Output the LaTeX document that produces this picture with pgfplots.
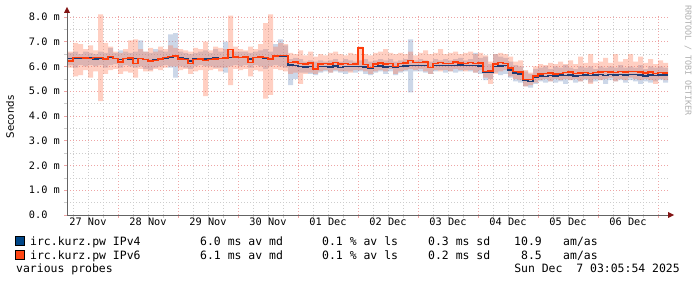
\documentclass[border=0pt]{standalone}
\usepackage{pgfplots}
\pgfplotsset{compat=1.18}
\usepackage{pgfplotstable}
\usepgfplotslibrary{fillbetween}
\usepackage{fontspec}
\setmainfont{DejaVu Sans}
\setmonofont{DejaVu Sans Mono}
\definecolor{vfour}{RGB}{30,60,115}
\definecolor{vfoursq}{RGB}{0,70,135}
\definecolor{vsix}{RGB}{255,60,10}
\definecolor{vsixsq}{RGB}{255,70,20}
\definecolor{smokeb}{RGB}{120,150,195}
\definecolor{smokeo}{RGB}{255,110,70}
\definecolor{mgrid}{RGB}{238,165,165}
\definecolor{ngrid}{RGB}{205,205,205}
\definecolor{arrowred}{RGB}{130,20,20}
\definecolor{axisgray}{RGB}{100,100,100}
\newcommand{\legfont}{\ttfamily\fontsize{11.5}{13}\selectfont}
\newcommand{\tickfont}{\ttfamily\fontsize{10.3}{12}\selectfont}

\pgfplotstableread{
h b bl bh o ol oh
4 6.32 6.05 6.55 6.22 5.95 6.60
6 6.33 5.95 6.60 6.36 5.60 6.95
8 6.33 6.05 6.50 6.35 5.65 6.90
10 6.32 6.00 6.60 6.34 5.85 6.70
12 6.35 6.05 6.55 6.33 5.55 6.85
14 6.30 6.00 6.50 6.36 5.80 6.65
16 6.34 6.05 6.60 6.35 4.60 8.10
18 6.31 5.95 6.55 6.30 5.70 6.95
20 6.36 6.05 6.75 6.40 5.85 6.80
22 6.33 6.10 6.55 6.32 5.90 6.60
24 6.28 5.95 6.65 6.18 5.70 6.55
26 6.33 6.05 6.60 6.32 5.80 6.70
28 6.30 6.00 6.55 6.34 5.75 7.05
30 6.32 5.95 6.60 6.12 5.55 7.10
32 6.33 6.00 7.05 6.32 5.90 6.70
34 6.28 5.90 6.60 6.28 5.80 6.60
36 6.25 5.85 6.55 6.22 5.80 6.75
38 6.26 5.95 6.70 6.24 5.90 6.60
40 6.30 6.00 6.65 6.30 5.85 6.80
42 6.33 6.05 6.60 6.35 5.95 6.70
44 6.38 5.95 7.30 6.40 6.00 6.85
46 6.40 5.55 7.35 6.42 6.00 6.75
48 6.35 6.00 6.60 6.30 5.85 6.70
50 6.30 5.95 6.55 6.28 5.90 6.65
52 6.22 5.90 6.50 6.12 5.70 6.60
54 6.30 6.00 6.55 6.28 5.80 6.75
56 6.32 6.05 6.60 6.30 5.85 6.70
58 6.30 6.00 6.65 6.25 4.80 7.00
60 6.32 6.00 6.55 6.28 5.85 6.65
62 6.34 5.95 6.70 6.30 5.90 6.80
64 6.33 5.95 6.60 6.32 5.80 6.75
66 6.35 5.75 7.00 6.34 5.95 6.70
68 6.36 6.00 6.65 6.70 5.25 8.05
70 6.36 6.05 6.60 6.38 5.90 6.80
72 6.35 6.00 6.60 6.36 5.85 6.70
74 6.36 6.05 6.60 6.38 5.90 6.65
76 6.30 5.95 6.55 6.15 5.60 6.80
78 6.35 6.05 6.60 6.35 5.85 6.70
80 6.36 6.00 6.65 6.38 5.80 6.90
82 6.34 5.90 6.70 6.36 4.70 7.75
84 6.33 6.00 6.60 6.30 4.85 8.10
86 6.40 6.05 6.90 6.42 5.90 6.80
88 6.42 6.00 7.10 6.45 5.85 6.95
90 6.40 5.95 6.85 6.44 5.80 6.90
92 6.06 5.25 6.30 6.15 5.70 6.55
94 6.04 5.50 6.35 6.18 5.75 6.50
96 6.00 5.75 6.30 6.12 5.30 6.65
98 5.98 5.75 6.20 6.10 5.70 6.45
100 6.00 5.70 6.25 6.14 5.75 6.60
102 5.90 5.65 6.20 5.90 5.70 6.40
104 5.99 5.75 6.25 6.10 5.80 6.50
106 6.00 5.80 6.20 6.12 5.85 6.45
108 5.98 5.75 6.25 6.10 5.75 6.55
110 6.02 5.80 6.30 6.15 5.85 6.60
112 5.97 5.75 6.20 6.10 5.80 6.50
114 6.00 5.70 6.30 6.12 5.80 6.45
116 6.01 5.80 6.25 6.08 5.75 6.55
118 5.99 5.75 6.20 6.10 5.85 6.50
120 6.00 5.80 6.25 6.75 5.85 6.80
122 5.98 5.70 6.30 6.08 5.80 6.50
124 5.92 5.65 6.20 5.95 5.70 6.45
126 6.00 5.75 6.25 6.10 5.80 6.55
128 6.02 5.80 6.30 6.14 5.85 6.60
130 5.98 5.70 6.25 6.10 5.80 6.70
132 6.01 5.80 6.30 6.12 5.90 6.55
134 5.96 5.65 6.20 6.00 5.70 6.50
136 6.00 5.75 6.25 6.12 5.80 6.55
138 6.02 5.80 6.30 6.14 5.85 6.50
140 6.05 4.95 7.10 6.25 5.90 6.60
142 6.03 5.80 6.25 6.15 5.85 6.45
144 6.04 5.80 6.30 6.16 5.90 6.55
146 6.05 5.75 6.25 6.18 5.80 6.65
148 5.95 5.70 6.20 5.97 5.70 6.50
150 6.03 5.80 6.30 6.12 5.85 6.55
152 6.05 5.85 6.25 6.15 5.80 6.70
154 6.03 5.75 6.30 6.13 5.85 6.50
156 6.05 5.80 6.25 6.12 5.80 6.55
158 6.04 5.75 6.30 6.18 5.90 6.60
160 6.06 5.80 6.35 6.14 5.85 6.50
162 6.03 5.85 6.25 6.12 5.80 6.55
164 6.05 5.80 6.30 6.15 5.85 6.60
166 6.04 5.75 6.55 6.13 5.75 6.50
168 6.02 5.70 6.35 6.14 5.85 6.55
170 5.78 5.45 6.40 5.80 5.55 6.45
172 5.76 5.50 6.10 5.82 5.30 6.20
174 6.00 5.75 6.50 6.10 5.70 6.50
176 6.02 5.65 6.40 6.15 5.80 6.55
178 6.03 5.70 6.35 6.12 5.85 6.50
180 5.86 5.55 6.20 5.94 5.60 6.40
182 5.74 5.40 6.05 5.80 5.50 6.20
184 5.70 5.35 6.00 5.78 5.45 6.25
186 5.42 5.20 5.80 5.48 5.20 5.85
188 5.40 5.15 5.70 5.47 5.25 5.75
190 5.58 5.30 5.90 5.62 5.35 6.00
192 5.62 5.40 5.95 5.70 5.45 6.10
194 5.60 5.35 6.00 5.72 5.50 6.05
196 5.64 5.40 5.90 5.74 5.40 6.15
198 5.62 5.35 6.00 5.70 5.50 6.10
200 5.65 5.40 5.95 5.72 5.45 6.20
202 5.63 5.30 6.05 5.75 5.50 6.10
204 5.66 5.45 5.95 5.78 5.45 6.25
206 5.62 5.35 5.90 5.73 5.50 6.10
208 5.64 5.40 6.00 5.74 5.40 6.40
210 5.66 5.45 5.95 5.76 5.50 6.15
212 5.63 5.35 6.00 5.72 5.30 6.50
214 5.65 5.40 5.90 5.75 5.50 6.15
216 5.67 5.45 6.00 5.78 5.45 6.20
218 5.64 5.30 5.95 5.80 5.50 6.35
220 5.68 5.45 6.00 5.78 5.55 6.15
222 5.66 5.40 5.95 5.77 5.40 6.50
224 5.68 5.45 6.05 5.80 5.50 6.20
226 5.66 5.35 5.95 5.78 5.45 6.30
228 5.67 5.45 6.00 5.79 5.55 6.50
230 5.69 5.40 5.95 5.80 5.50 6.20
232 5.66 5.30 6.05 5.78 5.45 6.40
234 5.62 5.40 5.90 5.74 5.50 6.15
236 5.65 5.35 6.00 5.78 5.45 6.30
238 5.64 5.40 5.95 5.72 5.30 6.10
240 5.66 5.45 6.00 5.76 5.50 6.25
242 5.65 5.35 5.95 5.74 5.45 6.15
244 5.65 5.35 5.95 5.74 5.45 6.15
}\data

\begin{document}
\begin{tikzpicture}
\path (0,0) rectangle (697bp,283bp);
\begin{axis}[
  at={(67bp,68bp)}, anchor=south west,
  scale only axis, width=601bp, height=200.5bp,
  xmin=3.6, xmax=244, ymin=0, ymax=8.1,
  axis line style={draw=none},
  xtick={24,48,...,240}, xticklabels={},
  minor xtick={6,12,18,30,36,42,54,60,66,78,84,90,102,108,114,126,132,138,150,156,162,174,180,186,198,204,210,222,228,234},
  extra x ticks={12,36,60,84,108,132,156,180,204,228},
  extra x tick labels={27 Nov,28 Nov,29 Nov,30 Nov,01 Dec,02 Dec,03 Dec,04 Dec,05 Dec,06 Dec},
  extra x tick style={grid=none, major tick length=0pt},
  ytick={0,1,...,8},
  yticklabels={0.0\phantom{\ m},1.0 m,2.0 m,3.0 m,4.0 m,5.0 m,6.0 m,7.0 m,8.0 m},
  minor ytick={0.5,1.5,...,7.5},
  grid=both,
  major grid style={mgrid, dash pattern=on 1bp off 2bp, line width=0.7bp},
  minor grid style={ngrid, dash pattern=on 1bp off 2bp, line width=0.7bp},
  tick align=outside, major tick length=3bp, minor tick length=3bp,
  major tick style={mgrid, line width=0.7bp},
  minor tick style={ngrid, line width=0.7bp},
  xtick pos=bottom, ytick pos=left,
  tick label style={inner sep=0pt},
  xticklabel style={font=\tickfont, anchor=north, yshift=-3bp},
  yticklabel style={font=\tickfont, anchor=east, xshift=-4bp},
]
\addplot[const plot, draw=none, name path=bh] table[x=h,y=bh]{\data};
\addplot[const plot, draw=none, name path=bl] table[x=h,y=bl]{\data};
\addplot[smokeb, fill opacity=0.38, draw=none] fill between[of=bh and bl];
\addplot[const plot, draw=none, name path=oh] table[x=h,y=oh]{\data};
\addplot[const plot, draw=none, name path=ol] table[x=h,y=ol]{\data};
\addplot[smokeo, fill opacity=0.33, draw=none] fill between[of=oh and ol];
\addplot[const plot, vfour, line width=1.3bp, no marks] table[x=h,y=b]{\data};
\addplot[const plot, vsix, line width=1.3bp, no marks] table[x=h,y=o]{\data};
\end{axis}
% axis lines with arrows
\draw[axisgray, line width=0.8bp] (67bp,68bp) -- (669bp,68bp);
\fill[arrowred] (674bp,68bp) -- (668bp,71bp) -- (668bp,65bp) -- cycle;
\draw[axisgray, line width=0.8bp] (67bp,68bp) -- (67bp,271bp);
\fill[arrowred] (67bp,276bp) -- (64bp,270bp) -- (70bp,270bp) -- cycle;
% y label
\node[rotate=90, font=\fontsize{10.2}{12}\selectfont, inner sep=0pt] at (10bp,166bp) {Seconds};
% watermark
\node[rotate=-90, anchor=west, inner sep=0pt, font=\ttfamily\fontsize{8.4}{10}\selectfont, text={rgb,255:red,175;green,175;blue,175}] at (688bp,278bp) {RRDTOOL / TOBI OETIKER};
% legend
\filldraw[fill=vfoursq, draw=black, line width=0.6bp] (15.5bp,38bp) rectangle (24bp,46.5bp);
\filldraw[fill=vsixsq, draw=black, line width=0.6bp] (15.5bp,24bp) rectangle (24bp,32.5bp);
\begin{scope}[every node/.style={inner sep=0pt, font=\legfont}]
\node[anchor=base west] at (30bp,38bp) {irc.kurz.pw IPv4};
\node[anchor=base west] at (200bp,38bp) {6.0 ms av md};
\node[anchor=base west] at (322bp,38bp) {0.1 \% av ls};
\node[anchor=base west] at (428bp,38bp) {0.3 ms sd};
\node[anchor=base east] at (542bp,38bp) {10.9};
\node[anchor=base west] at (563bp,38bp) {am/as};
\node[anchor=base west] at (30bp,24bp) {irc.kurz.pw IPv6};
\node[anchor=base west] at (200bp,24bp) {6.1 ms av md};
\node[anchor=base west] at (322bp,24bp) {0.1 \% av ls};
\node[anchor=base west] at (428bp,24bp) {0.2 ms sd};
\node[anchor=base east] at (542bp,24bp) {8.5};
\node[anchor=base west] at (563bp,24bp) {am/as};
\node[anchor=base west] at (16bp,11bp) {various probes};
\node[anchor=base east] at (680bp,11bp) {Sun Dec\ \ 7 03:05:54 2025};
\end{scope}
\end{tikzpicture}
\end{document}
